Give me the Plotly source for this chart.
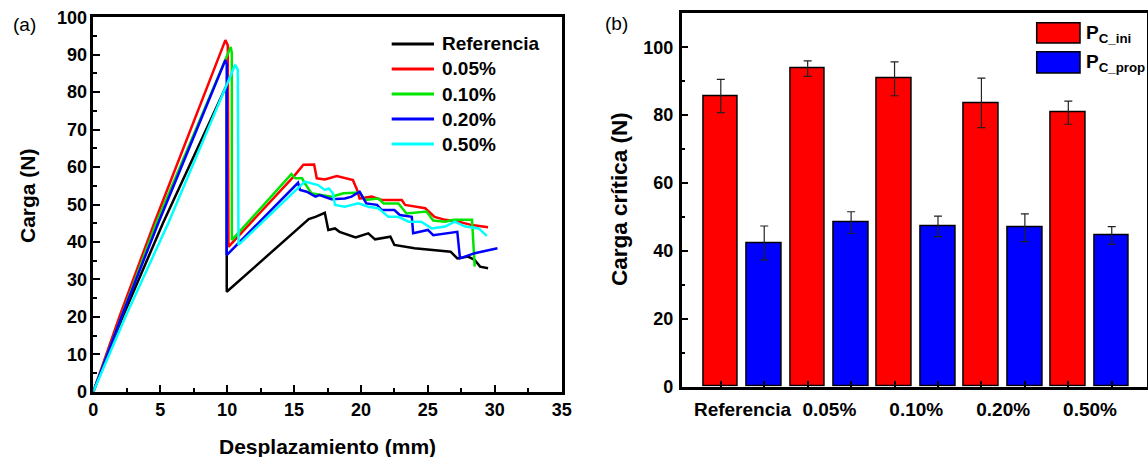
import plotly.graph_objects as go

# ---- (a) load-displacement curves ----
disp_ref = [0, 2.2, 5.2, 9.97, 9.97, 16.1, 16.6, 17.3, 17.56, 18.06, 18.4, 19.6, 20.55, 21.05, 22.2, 22.5,
            24.0, 25.5, 26.7, 27.2, 28.0, 28.5, 28.9, 29.5]
load_ref = [0, 20, 45, 81.9, 26.7, 46.1, 46.7, 47.8, 43.2, 43.6, 42.7, 41.2, 42.3, 40.7, 41.4, 39.2,
            38.3, 37.8, 37.4, 35.6, 36.1, 35.2, 33.4, 33.0]

disp_005 = [0, 2.0, 4.55, 9.87, 10.05, 10.1, 15.0, 15.7, 16.5, 16.7, 17.3, 18.2, 19.4, 19.7, 19.9, 20.8,
            21.55, 23.05, 23.3, 24.8, 25.5, 26.3, 27.3, 28.3, 29.5]
load_005 = [0, 20.5, 45, 93.9, 92.5, 38.7, 57.6, 60.6, 60.7, 57.0, 56.7, 57.6, 56.5, 54.0, 51.6, 52.1,
            51.2, 51.2, 49.9, 49.0, 46.7, 45.9, 45.4, 44.5, 43.9]

disp_010 = [0, 2.1, 4.7, 10.27, 10.35, 10.35, 14.8, 15.1, 15.6, 15.8, 16.3, 17.8, 18.7, 19.9, 20.3, 21.3,
            21.7, 22.8, 23.4, 24.9, 25.4, 26.3, 26.9, 28.3, 28.45, 28.5]
load_010 = [0, 20, 45, 92.1, 90.5, 40.5, 58.1, 57.0, 57.0, 55.7, 53.0, 52.1, 53.0, 53.2, 51.2, 51.6,
            50.3, 50.3, 47.6, 48.1, 45.7, 45.4, 45.9, 45.9, 33.4, 33.4]

disp_020 = [0, 2.1, 4.85, 9.87, 9.97, 9.97, 15.3, 15.45, 15.95, 16.6, 16.9, 17.8, 18.8, 19.3, 19.9, 20.4,
            21.2, 21.55, 22.5, 22.9, 23.8, 23.9, 25.0, 25.4, 27.2, 27.4, 28.5, 30.2]
load_020 = [0, 20, 45, 88.6, 87.5, 36.5, 55.8, 53.9, 53.4, 52.1, 52.5, 51.4, 51.6, 52.1, 53.4, 50.3,
            49.9, 48.5, 48.5, 47.2, 46.7, 42.3, 43.2, 41.8, 42.7, 35.6, 37.0, 38.3]

disp_050 = [0, 2.4, 5.6, 10.6, 10.8, 10.85, 15.8, 16.3, 16.8, 17.3, 17.6, 17.9, 18.06, 18.8, 19.8, 20.55,
            21.3, 22.05, 22.8, 23.55, 24.5, 25.3, 26.3, 27.0, 27.8, 28.8, 29.4]
load_050 = [0, 20, 45, 87.3, 86.0, 39.2, 56.1, 55.7, 55.2, 53.9, 54.3, 53.0, 49.9, 49.4, 50.3, 49.4,
            49.0, 46.7, 46.7, 45.4, 45.4, 43.6, 44.1, 45.4, 44.1, 43.6, 41.6]

curve_names = ["Referencia", "0.05%", "0.10%", "0.20%", "0.50%"]
curve_colors = ["#000000", "#FF0000", "#00E600", "#0000FF", "#00FFFF"]
curve_disp = [disp_ref, disp_005, disp_010, disp_020, disp_050]
curve_load = [load_ref, load_005, load_010, load_020, load_050]

# ---- (b) critical loads ----
categories = ["Referencia", "0.05%", "0.10%", "0.20%", "0.50%"]
pc_ini = [85.6, 93.7, 90.7, 83.6, 80.7]
pc_ini_err = [4.9, 2.3, 5.0, 7.3, 3.4]
pc_prop = [42.3, 48.3, 47.2, 46.8, 44.5]
pc_prop_err = [5.0, 3.2, 3.0, 4.1, 2.6]

W, H = 1148, 457
FONT = "Liberation Sans, Arial, sans-serif"


def px(x):
    return x / W


def py(y):
    return 1 - y / H


fig = go.Figure()

for name, col, xs, ys in zip(curve_names, curve_colors, curve_disp, curve_load):
    fig.add_trace(go.Scatter(x=xs, y=ys, mode="lines", name=name,
                             line=dict(color=col, width=2.5), showlegend=False,
                             xaxis="x", yaxis="y"))

red_x = [2 * i for i in range(len(categories))]
blue_x = [2 * i + 1 for i in range(len(categories))]
err_style = dict(type="data", color="#222222", thickness=1.2, width=4)

fig.add_trace(go.Bar(x=red_x, y=pc_ini, width=0.8, name="P_C_ini",
                     marker=dict(color="#FF0000", line=dict(color="#000000", width=1.5)),
                     error_y=dict(array=pc_ini_err, **err_style),
                     showlegend=False, xaxis="x2", yaxis="y2"))
fig.add_trace(go.Bar(x=blue_x, y=pc_prop, width=0.8, name="P_C_prop",
                     marker=dict(color="#0000FF", line=dict(color="#000000", width=1.5)),
                     error_y=dict(array=pc_prop_err, **err_style),
                     showlegend=False, xaxis="x2", yaxis="y2"))

tickfont = dict(family=FONT, size=18, color="#000000", weight="bold")
axis_common = dict(showline=True, linewidth=2.5, linecolor="#000000", mirror=True,
                   ticks="inside", ticklen=7, tickwidth=2, tickcolor="#000000",
                   showgrid=False, zeroline=False, tickfont=tickfont, automargin=False)

group_mid = [2 * i + 0.5 for i in range(len(categories))]

fig.update_layout(
    template="none",
    width=W, height=H,
    margin=dict(l=0, r=0, t=0, b=0),
    paper_bgcolor="white", plot_bgcolor="white",
    bargap=0,
    xaxis=dict(domain=[px(93.3), px(561.7)], range=[0, 35], dtick=5, tick0=0,
               minor=dict(ticks="inside", ticklen=3.5, tickwidth=2, dtick=2.5, tick0=0,
                          tickcolor="#000000", showgrid=False),
               anchor="y", **axis_common),
    yaxis=dict(domain=[py(391.7), py(17.3)], range=[0, 100], dtick=10, tick0=0,
               minor=dict(ticks="inside", ticklen=3.5, tickwidth=2, dtick=5, tick0=0,
                          tickcolor="#000000", showgrid=False),
               anchor="x", **axis_common),
    xaxis2=dict(domain=[px(681.7), px(1146.5)], range=[-0.9, 9.8],
                tickvals=group_mid, ticktext=categories, ticklabelstandoff=4,
                minor=dict(ticks="inside", ticklen=6, tickwidth=2, dtick=1, tick0=0,
                           tickcolor="#000000", showgrid=False),
                anchor="y2",
                **{**axis_common, "ticklen": 0,
                   "tickfont": dict(family=FONT, size=19, color="#000000", weight="bold")}),
    yaxis2=dict(domain=[py(386.5), py(13.3)], range=[0, 110], dtick=20, tick0=0,
                ticklabelstandoff=2,
                minor=dict(ticks="inside", ticklen=3.5, tickwidth=2, dtick=10, tick0=0,
                           tickcolor="#000000", showgrid=False),
                anchor="x2", **axis_common),
)

ann = []
title_font = dict(family=FONT, size=21, color="#000000", weight="bold")
ann.append(dict(text="Desplazamiento (mm)", x=px(327.5), y=py(446), xref="paper", yref="paper",
                xanchor="center", yanchor="middle", showarrow=False, font=title_font))
ann.append(dict(text="Carga (N)", x=px(28), y=py(196), xref="paper", yref="paper",
                xanchor="center", yanchor="middle", showarrow=False, textangle=-90, font=title_font))
ann.append(dict(text="Carga crítica (N)", x=px(619), y=py(199), xref="paper", yref="paper",
                xanchor="center", yanchor="middle", showarrow=False, textangle=-90,
                font={**title_font, "size": 22.5}))
label_font = dict(family=FONT, size=19, color="#000000")
ann.append(dict(text="(a)", x=px(24), y=py(25), xref="paper", yref="paper",
                xanchor="center", yanchor="middle", showarrow=False, font=label_font))
ann.append(dict(text="(b)", x=px(616), y=py(24), xref="paper", yref="paper",
                xanchor="center", yanchor="middle", showarrow=False, font=label_font))

shapes = []
# legend of panel (a)
leg_font = dict(family=FONT, size=19, color="#000000", weight="bold")
for i, (name, col) in enumerate(zip(curve_names, curve_colors)):
    yy = 44 + 25 * i
    shapes.append(dict(type="line", xref="paper", yref="paper",
                       x0=px(391.7), x1=px(434), y0=py(yy), y1=py(yy),
                       line=dict(color=col, width=3)))
    ann.append(dict(text=name, x=px(440), y=py(yy), xref="paper", yref="paper",
                    xanchor="left", yanchor="middle", showarrow=False, font=leg_font))

# legend of panel (b)
bar_leg = [("#FF0000", "P", "C_ini", 22.7, 43), ("#0000FF", "P", "C_prop", 51.7, 73)]
for col, main, sub, y0, y1 in bar_leg:
    shapes.append(dict(type="rect", xref="paper", yref="paper",
                       x0=px(1036.7), x1=px(1080), y0=py(y1), y1=py(y0),
                       fillcolor=col, line=dict(color="#000000", width=1.5)))
    ann.append(dict(text=f"<b>{main}</b><sub><b>{sub}</b></sub>", x=px(1084), y=py(y0 - 3),
                    xref="paper", yref="paper", xanchor="left", yanchor="top",
                    showarrow=False, font=dict(family=FONT, size=19, color="#000000")))

fig.update_layout(annotations=ann, shapes=shapes)
fig.write_html("out.html")
